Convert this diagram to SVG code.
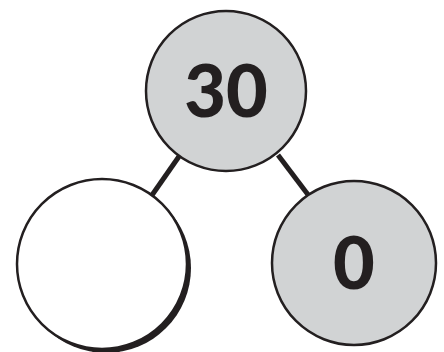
<svg xmlns="http://www.w3.org/2000/svg" width="444" height="352" viewBox="0 0 444 352">
<style>
.node{stroke:#231f20;stroke-width:2.5}
.grey{fill:#d1d3d4}
.white{fill:#ffffff}
.edge{stroke:#231f20;stroke-width:5;fill:none}
.lbl{font-family:Lato,"Noto Sans",sans-serif;font-weight:900;font-size:72px;fill:#231f20;text-anchor:middle}
</style>
<rect width="444" height="352" fill="#ffffff"/>
<g id="connectors">
<line class="edge" x1="180" y1="155" x2="150" y2="198"/>
<line class="edge" x1="278" y1="155" x2="309" y2="196"/>
</g>
<g id="node-30">
<circle class="node grey" cx="226" cy="91" r="80"/>
<text class="lbl" x="226" y="117">30</text>
</g>
<g id="node-empty">
<circle cx="106" cy="268" r="85" fill="#231f20"/>
<circle class="node white" cx="102" cy="264" r="85"/>
</g>
<g id="node-0">
<circle class="node grey" cx="354" cy="263" r="82"/>
<text class="lbl" x="354" y="289">0</text>
</g>
</svg>
